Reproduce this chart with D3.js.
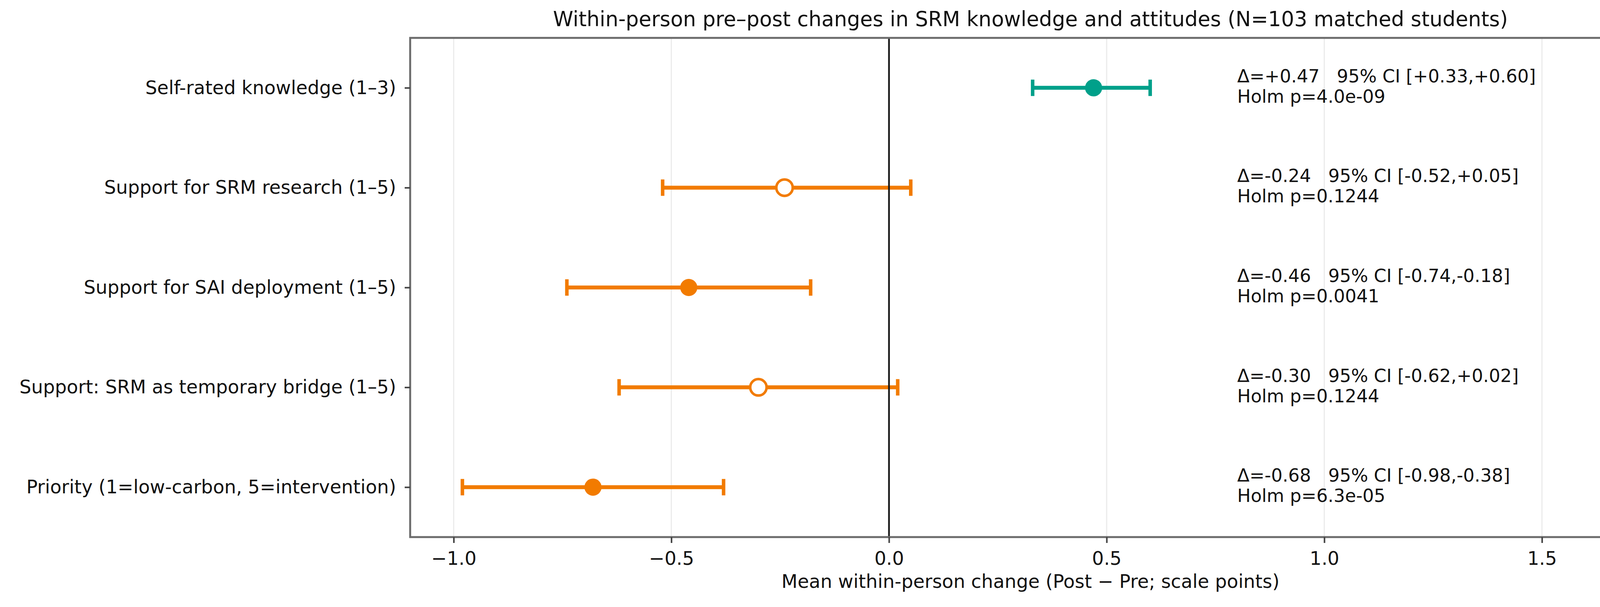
<!DOCTYPE html>
<html>
<head>
<meta charset="utf-8">
<script src="https://cdn.jsdelivr.net/npm/d3@7"></script>
<style>
  body { margin: 0; background: #fff; }
  svg text { font-family: 'DejaVu Sans', sans-serif; fill: #111; }
</style>
</head>
<body>
<div class="visHolder"></div>
<script>
// data
var outcomes = [
    'Self-rated knowledge (1\u20133)',
    'Support for SRM research (1\u20135)',
    'Support for SAI deployment (1\u20135)',
    'Support: SRM as temporary bridge (1\u20135)',
    'Priority (1=low-carbon, 5=intervention)'
];
var deltas = [0.47, -0.24, -0.46, -0.30, -0.68];
var ciLow = [0.33, -0.52, -0.74, -0.62, -0.98];
var ciHigh = [0.60, 0.05, -0.18, 0.02, -0.38];
var holmP = [4.0e-9, 0.1244, 0.0041, 0.1244, 6.3e-5];
var xTicks = [-1.0, -0.5, 0.0, 0.5, 1.0, 1.5];

var width = 4264,
    height = 1554,
    margin = { left: 1050, right: 38, top: 97, bottom: 179 };

var teal = '#00a08a',
    orange = '#f27b00';

var svg = d3
    .select('.visHolder')
    .append('svg')
    .attr('width', width)
    .attr('height', height);

var xScale = d3
    .scaleLinear()
    .domain([-1.1, 1.75])
    .range([margin.left, width - margin.right]);

var yScale = d3
    .scalePoint()
    .domain(outcomes)
    .range([margin.top, height - margin.bottom])
    .padding(0.5);

// grid
svg.append('g')
    .selectAll('line')
    .data(xTicks)
    .enter()
    .append('line')
    .attr('x1', function (d) { return xScale(d); })
    .attr('x2', function (d) { return xScale(d); })
    .attr('y1', margin.top)
    .attr('y2', height - margin.bottom)
    .attr('stroke', '#ebebeb')
    .attr('stroke-width', 3);

function signed(v) {
    return (v >= 0 ? '+' : '-') + Math.abs(v).toFixed(2);
}

function fmtP(p) {
    if (p >= 0.001) return p.toFixed(4);
    var parts = p.toExponential(1).split('e');
    var exp = parseInt(parts[1], 10);
    var e = Math.abs(exp) < 10 ? '0' + Math.abs(exp) : '' + Math.abs(exp);
    return parts[0] + 'e' + (exp < 0 ? '-' : '+') + e;
}

var rows = outcomes.map(function (name, i) {
    return {
        name: name,
        delta: deltas[i],
        lo: ciLow[i],
        hi: ciHigh[i],
        p: holmP[i],
        color: deltas[i] >= 0 ? teal : orange,
        sig: holmP[i] < 0.05
    };
});

var marks = svg.append('g')
    .selectAll('g')
    .data(rows)
    .enter()
    .append('g')
    .attr('transform', function (d) { return 'translate(0,' + yScale(d.name) + ')'; });

marks.append('line')
    .attr('x1', function (d) { return xScale(d.lo); })
    .attr('x2', function (d) { return xScale(d.hi); })
    .attr('stroke', function (d) { return d.color; })
    .attr('stroke-width', 10);

marks.selectAll('.cap')
    .data(function (d) { return [{ v: d.lo, c: d.color }, { v: d.hi, c: d.color }]; })
    .enter()
    .append('line')
    .attr('class', 'cap')
    .attr('x1', function (d) { return xScale(d.v); })
    .attr('x2', function (d) { return xScale(d.v); })
    .attr('y1', -21)
    .attr('y2', 21)
    .attr('stroke', function (d) { return d.c; })
    .attr('stroke-width', 9);

// zero reference line
svg.append('line')
    .attr('x1', xScale(0))
    .attr('x2', xScale(0))
    .attr('y1', margin.top)
    .attr('y2', height - margin.bottom)
    .attr('stroke', '#1a1a1a')
    .attr('stroke-width', 4.5);

marks.append('circle')
    .attr('cx', function (d) { return xScale(d.delta); })
    .attr('r', function (d) { return d.sig ? 22 : 21; })
    .attr('fill', function (d) { return d.sig ? d.color : '#fff'; })
    .attr('stroke', function (d) { return d.color; })
    .attr('stroke-width', function (d) { return d.sig ? 0 : 6.5; });

var notes = marks.append('text')
    .attr('x', xScale(0.8))
    .style('font-size', '46px');

notes.append('tspan')
    .attr('x', xScale(0.8))
    .attr('y', -14)
    .attr('xml:space', 'preserve')
    .style('white-space', 'pre')
    .text(function (d) {
        return '\u0394=' + signed(d.delta) + '   95% CI [' + signed(d.lo) + ',' + signed(d.hi) + ']';
    });

notes.append('tspan')
    .attr('x', xScale(0.8))
    .attr('y', 38)
    .text(function (d) { return 'Holm p=' + fmtP(d.p); });

// frame
svg.append('rect')
    .attr('x', margin.left)
    .attr('y', margin.top)
    .attr('width', width - margin.left - margin.right)
    .attr('height', height - margin.top - margin.bottom)
    .attr('fill', 'none')
    .attr('stroke', '#6b6b6b')
    .attr('stroke-width', 5);

var xAxis = d3.axisBottom(xScale)
    .tickValues(xTicks)
    .tickFormat(d3.format('.1f'))
    .tickSize(15)
    .tickSizeOuter(0)
    .tickPadding(22);

var gx = svg.append('g')
    .attr('transform', 'translate(0,' + (height - margin.bottom) + ')')
    .call(xAxis);
gx.select('.domain').remove();
gx.selectAll('line').attr('stroke', '#444').attr('stroke-width', 4);
gx.selectAll('text').style('font-size', '47.7px').attr('fill', '#111');

var yAxis = d3.axisLeft(yScale)
    .tickSize(14)
    .tickSizeOuter(0)
    .tickPadding(22);

var gy = svg.append('g')
    .attr('transform', 'translate(' + margin.left + ',0)')
    .call(yAxis);
gy.select('.domain').remove();
gy.selectAll('line').attr('stroke', '#444').attr('stroke-width', 4);
gy.selectAll('text').style('font-size', '47.7px').attr('fill', '#111');

svg.append('text')
    .attr('x', (margin.left + width - margin.right) / 2)
    .attr('y', 1505)
    .attr('text-anchor', 'middle')
    .style('font-size', '47.7px')
    .text('Mean within-person change (Post \u2212 Pre; scale points)');

svg.append('text')
    .attr('x', (margin.left + width - margin.right) / 2)
    .attr('y', 67)
    .attr('text-anchor', 'middle')
    .style('font-size', '52.5px')
    .text('Within-person pre\u2013post changes in SRM knowledge and attitudes (N=103 matched students)');
</script>
</body>
</html>
